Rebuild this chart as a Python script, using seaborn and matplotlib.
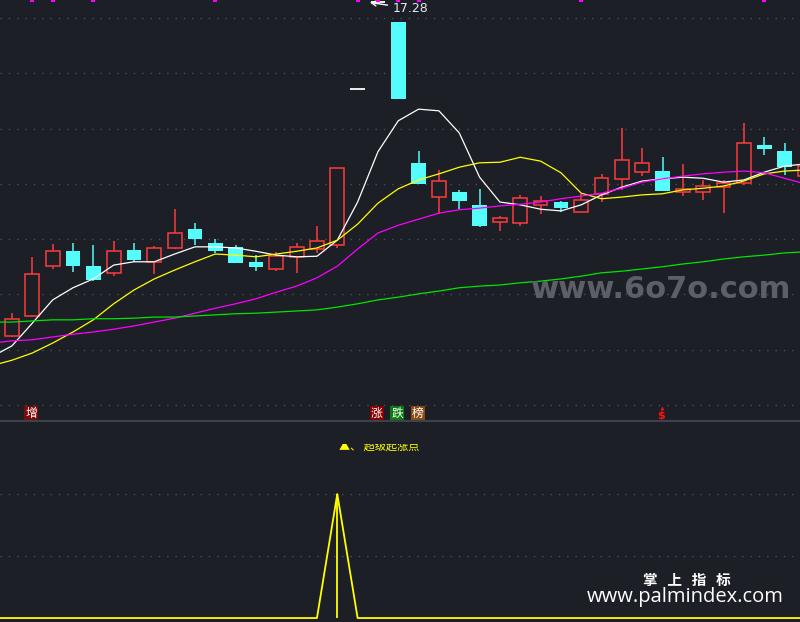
"""
K线图 + 均线 + 副图信号
"""
import numpy as np
import pandas as pd
import seaborn as sns
import matplotlib

matplotlib.use('Agg')
import matplotlib.pyplot as plt
from matplotlib.patches import Rectangle

# ==================== 配色 ====================
BG = '#1c1f26'
GRID = '#4a4e58'
RED = '#ff3b3b'
CYAN = '#54fcfc'
YELLOW = '#ffff00'

# ==================== 数据 ====================
opens = [11.25, 11.61, 12.51, 12.78, 12.51, 12.39, 12.80, 12.59, 12.84, 13.18,
         12.93, 12.86, 12.59, 12.46, 12.68, 12.82, 12.89, 15.71, 17.28, 16.93,
         14.38, 13.76, 13.85, 13.62, 13.31, 13.29, 13.62, 13.67, 13.49, 13.82,
         14.09, 14.21, 14.23, 13.85, 13.85, 13.94, 14.01, 14.70, 14.59, 14.14]
highs = [11.66, 12.68, 12.91, 12.93, 12.89, 12.97, 12.93, 12.88, 13.54, 13.29,
         13.00, 12.89, 12.71, 12.77, 12.93, 13.24, 14.28, 15.71, 17.28, 16.93,
         14.59, 14.25, 13.89, 13.91, 13.42, 13.80, 13.78, 13.69, 13.82, 14.18,
         15.01, 14.65, 14.48, 14.36, 14.07, 14.07, 15.10, 14.85, 14.74, 14.42]
lows = [11.23, 11.59, 12.46, 12.41, 12.25, 12.33, 12.59, 12.37, 12.83, 12.89,
        12.75, 12.56, 12.42, 12.42, 12.39, 12.75, 12.84, 15.71, 17.28, 15.53,
        14.00, 13.45, 13.54, 13.22, 13.15, 13.24, 13.45, 13.49, 13.49, 13.67,
        13.89, 14.14, 13.87, 13.78, 13.71, 13.47, 13.98, 14.52, 14.16, 14.10]
closes = [11.56, 12.37, 12.78, 12.51, 12.26, 12.78, 12.62, 12.84, 13.11, 13.00,
          12.78, 12.57, 12.50, 12.69, 12.86, 12.97, 14.28, 15.71, 17.28, 15.53,
          14.00, 14.05, 13.69, 13.24, 13.38, 13.74, 13.69, 13.56, 13.71, 14.10,
          14.43, 14.38, 13.87, 13.91, 13.96, 14.01, 14.74, 14.63, 14.30, 14.32]

# 均线 (从第 -1 根开始)
ma5 = [10.87, 11.07, 11.48, 11.90, 12.12, 12.28, 12.53, 12.59, 12.59, 12.73, 12.86,
       12.86, 12.84, 12.78, 12.71, 12.68, 12.69, 12.98, 13.67, 14.58, 15.14,
       15.35, 15.32, 14.92, 14.12, 13.67, 13.62, 13.54, 13.51, 13.62, 13.80,
       13.94, 14.05, 14.09, 14.12, 14.10, 14.03, 14.07, 14.21, 14.32, 14.36]
ma10 = [10.71, 10.81, 10.94, 11.12, 11.32, 11.54, 11.83, 12.08, 12.28, 12.44, 12.59,
        12.73, 12.71, 12.68, 12.73, 12.78, 12.84, 12.98, 13.27, 13.65, 13.91,
        14.07, 14.18, 14.30, 14.38, 14.39, 14.48, 14.41, 14.20, 13.83, 13.73,
        13.76, 13.80, 13.82, 13.89, 13.92, 13.96, 14.05, 14.18, 14.23, 14.25]
ma20 = [11.12, 11.16, 11.18, 11.23, 11.28, 11.32, 11.37, 11.43, 11.50, 11.57, 11.66,
        11.75, 11.83, 11.92, 12.04, 12.15, 12.30, 12.51, 12.82, 13.11, 13.25,
        13.36, 13.47, 13.53, 13.56, 13.60, 13.63, 13.67, 13.73, 13.78, 13.83,
        13.92, 14.03, 14.09, 14.14, 14.18, 14.21, 14.23, 14.20, 14.10, 14.00]
ma60 = [11.50, 11.50, 11.52, 11.54, 11.54, 11.56, 11.56, 11.57, 11.59, 11.59, 11.61,
        11.63, 11.65, 11.66, 11.68, 11.70, 11.72, 11.77, 11.83, 11.90, 11.95,
        12.01, 12.06, 12.12, 12.15, 12.17, 12.21, 12.24, 12.28, 12.33, 12.39,
        12.42, 12.46, 12.50, 12.55, 12.59, 12.64, 12.68, 12.71, 12.75, 12.77]

# 副图信号 (从第 -1 根开始)
signal = [0, 0, 0, 0, 0, 0, 0, 0, 0, 0, 0,
          0, 0, 0, 0, 0, 0, 100, 0, 0, 0,
          0, 0, 0, 0, 0, 0, 0, 0, 0, 0,
          0, 0, 0, 0, 0, 0, 0, 0, 0, 0]
signal_bar = 16

top_marks = [1, 2, 4, 10, 17, 18, 19, 20, 28, 37]
labels = [(1, '增', '#7d0a0a'), (18, '涨', '#850000'), (19, '跌', '#0b7a10'), (20, '榜', '#8a4a12')]
dollar_bar = 32
max_bar, max_price = 18, 17.28

# ==================== 绘图 ====================
sns.set_theme(style='dark', rc={'axes.facecolor': BG, 'figure.facecolor': BG})
plt.rcParams['font.family'] = ['DejaVu Sans', 'Noto Sans CJK SC']
plt.rcParams['axes.unicode_minus'] = False

fig = plt.figure(figsize=(8, 6.22), dpi=100)
ax = fig.add_axes([0, 0.3232, 1, 0.6768])
ax2 = fig.add_axes([0, 0, 1, 0.3232])

XLIM = (-0.59, 38.76)

o = np.array(opens); h = np.array(highs); l = np.array(lows); c = np.array(closes)
idx = np.arange(len(o))
up = c > o
dn = c < o
flat = c == o
lo_b = np.minimum(o, c)
hi_b = np.maximum(o, c)

# 影线
ax.vlines(idx[up], hi_b[up], h[up], color=RED, lw=1.1, zorder=2)
ax.vlines(idx[up], l[up], lo_b[up], color=RED, lw=1.1, zorder=2)
ax.vlines(idx[dn], l[dn], h[dn], color=CYAN, lw=1.1, zorder=2)
# 实体
ax.bar(idx[up], hi_b[up] - lo_b[up], bottom=lo_b[up], width=0.68,
       facecolor=BG, edgecolor=RED, linewidth=1.1, zorder=3)
ax.bar(idx[dn], hi_b[dn] - lo_b[dn], bottom=lo_b[dn], width=0.72,
       color=CYAN, linewidth=0, zorder=3)
ax.hlines(c[flat], idx[flat] - 0.36, idx[flat] + 0.36, color='white', lw=1.3, zorder=3)

# 均线
ma_df = pd.DataFrame({'i': np.arange(-1, 40), 'MA5': ma5, 'MA10': ma10,
                      'MA20': ma20, 'MA60': ma60})
ma_long = ma_df.melt(id_vars='i', var_name='ma', value_name='v')
sns.lineplot(data=ma_long, x='i', y='v', hue='ma', legend=False, linewidth=0.9,
             palette={'MA5': '#ffffff', 'MA10': YELLOW, 'MA20': '#ff00ff', 'MA60': '#00e600'},
             ax=ax, zorder=4)

ax.set_xlim(*XLIM)
ax.set_ylim(9.711, 17.324)
for yv in range(10, 18):
    ax.axhline(yv, color=GRID, lw=1, ls=(0, (1, 5)), zorder=1)

# 最高价标注
ax.annotate(f'{max_price:.2f}', xy=(max_bar - 0.4, max_price), xytext=(max_bar + 0.7, 17.17),
            color='#e3e9f2', fontsize=9, va='center', ha='left', zorder=6,
            arrowprops=dict(arrowstyle='->', color='white', lw=1, shrinkA=1, shrinkB=0))

# 顶部标记
xt = ax.get_xaxis_transform()
ax.scatter(top_marks, [1.0] * len(top_marks), transform=xt, marker='s', s=12,
           color='#ff00ff', linewidths=0, clip_on=False, zorder=6)

# 底部文字标签
for bar_i, txt, col in labels:
    ax.text(bar_i - 0.05, 0.018, txt, transform=xt, ha='center', va='center', fontsize=8.5,
            color='white', family=['Noto Sans CJK SC'], zorder=6,
            bbox=dict(boxstyle='square,pad=0.1', facecolor=col, edgecolor='none'))
ax.scatter([dollar_bar - 0.05], [0.030], transform=xt, marker='^', s=8,
           color='#ff1010', linewidths=0, zorder=6)
ax.text(dollar_bar - 0.05, 0.011, '$', transform=xt, ha='center', va='center',
        fontsize=8, color='#ff1010', fontweight='bold', zorder=6)

ax.set_xticks([])
ax.set_yticks([])
ax.set_xlabel('')
ax.set_ylabel('')
for s in ax.spines.values():
    s.set_visible(False)

# ==================== 副图 ====================
sig_df = pd.DataFrame({'i': np.arange(-1, 40), 'v': signal})
sns.lineplot(data=sig_df, x='i', y='v', color=YELLOW, linewidth=1.3, ax=ax2, zorder=3)
ax2.vlines(signal_bar, 0, max(signal), color=YELLOW, lw=1.3, zorder=3)
ax2.set_xlim(*XLIM)
ax2.set_ylim(-3.2, 158.9)
for yv in (50, 100):
    ax2.axhline(yv, color=GRID, lw=1, ls=(0, (1, 5)), zorder=1)
ax2.set_xticks([])
ax2.set_yticks([])
ax2.set_xlabel('')
ax2.set_ylabel('')
for s in ax2.spines.values():
    s.set_visible(False)
ax2.spines['top'].set_visible(True)
ax2.spines['top'].set_color('#3d414b')
ax2.spines['top'].set_linewidth(1.5)

# 信号名称 (原图只露出下半截)
ax2.text(16.1, 0.87, '▲、 超级起涨点', transform=ax2.get_xaxis_transform(),
         ha='left', va='center', fontsize=8, color=YELLOW, zorder=4,
         family=['Noto Sans CJK SC', 'DejaVu Sans'])
ax2.add_patch(Rectangle((15.5, 0.885), 5.0, 0.1, transform=ax2.get_xaxis_transform(),
                        facecolor=BG, edgecolor='none', zorder=5))

# ==================== 水印 ====================
fig.text(0.826, 0.534, 'www.6o7o.com', ha='center', va='center', fontsize=22,
         fontweight='bold', color='#5c5f66')
fig.text(0.858, 0.068, '掌   上   指   标', ha='center', va='center', fontsize=10.5,
         fontweight='bold', color='white', family=['Noto Sans CJK SC'])
fig.text(0.856, 0.040, 'www.palmindex.com', ha='center', va='center', fontsize=14.5,
         color='white', family=['Open Sans', 'DejaVu Sans'])

fig.savefig('out.png', dpi=100, facecolor=BG)
plt.close('all')
